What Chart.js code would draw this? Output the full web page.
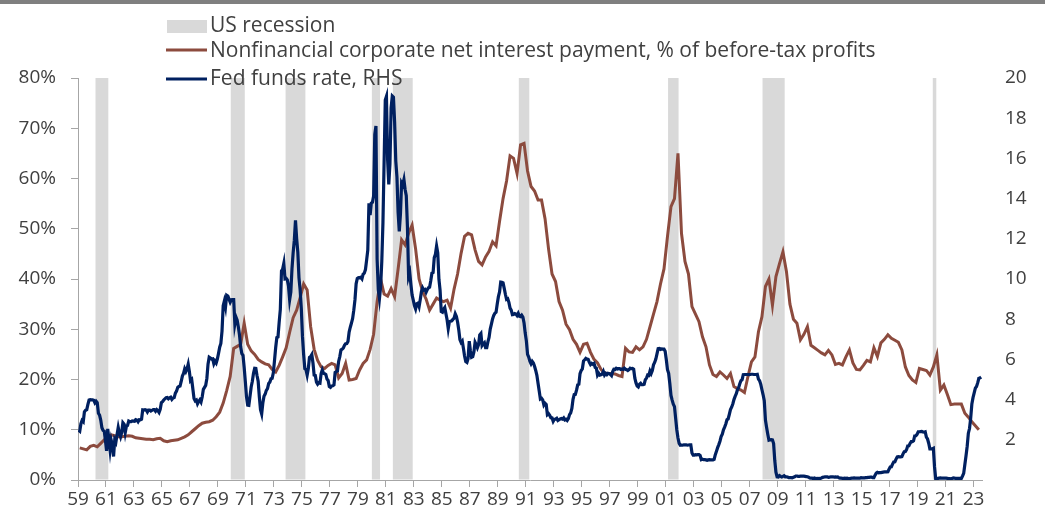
<!DOCTYPE html>
<html>
<head>
<meta charset="utf-8">
<script src="https://cdn.jsdelivr.net/npm/chart.js@4.4.1/dist/chart.umd.min.js"></script>
<style>
  html, body { margin: 0; padding: 0; background: #fff; }
  canvas { display: block; }
</style>
</head>
<body>
<canvas id="chart" width="1045" height="522"></canvas>
<script>
// US recessions (NBER, decimal years: start of first month, end of last month)
const recStart = [1960.25, 1969.917, 1973.833, 1980.0, 1981.5, 1990.5, 2001.167, 2007.917, 2020.083];
const recEnd   = [1961.167, 1970.917, 1975.25, 1980.583, 1982.917, 1991.25, 2001.917, 2009.5, 2020.333];

// Fed funds rate, monthly from Jan 1959 (RHS)
const ffStart = 1959;
const ffRate = [
  2.48, 2.43, 2.80, 2.96, 2.90, 3.39, 3.47, 3.50, 3.76, 3.98, 4.00, 3.99,
  3.99, 3.97, 3.84, 3.92, 3.85, 3.32, 3.23, 2.98, 2.60, 2.47, 2.44, 1.98,
  1.45, 2.54, 2.02, 1.49, 1.98, 1.73, 1.17, 2.00, 1.88, 2.26, 2.61, 2.33,
  2.15, 2.37, 2.85, 2.78, 2.36, 2.68, 2.71, 2.93, 2.90, 2.90, 2.94, 2.93,
  2.92, 3.00, 2.98, 2.90, 3.00, 2.99, 3.02, 3.49, 3.48, 3.50, 3.48, 3.38,
  3.48, 3.48, 3.43, 3.47, 3.50, 3.50, 3.42, 3.50, 3.45, 3.36, 3.52, 3.85,
  3.90, 3.98, 4.04, 4.09, 4.10, 4.04, 4.09, 4.12, 4.01, 4.08, 4.10, 4.32,
  4.42, 4.60, 4.65, 4.67, 4.90, 5.17, 5.30, 5.53, 5.40, 5.53, 5.76, 5.40,
  4.94, 5.00, 4.53, 4.05, 3.94, 3.98, 3.79, 3.90, 3.99, 3.88, 4.13, 4.51,
  4.61, 4.71, 5.05, 5.76, 6.11, 6.07, 6.02, 6.03, 5.78, 5.91, 5.82, 6.02,
  6.30, 6.61, 6.79, 7.41, 8.67, 8.90, 8.61, 9.19, 9.15, 9.00, 8.85, 8.97,
  8.98, 8.98, 7.76, 8.10, 7.95, 7.61, 7.21, 6.61, 6.29, 6.20, 5.60, 4.90,
  4.14, 3.72, 3.71, 4.16, 4.63, 4.91, 5.31, 5.56, 5.55, 5.20, 4.91, 4.14,
  3.50, 3.29, 3.83, 4.17, 4.27, 4.46, 4.55, 4.80, 4.87, 5.04, 5.06, 5.33,
  5.94, 6.58, 7.09, 7.12, 7.84, 8.49, 10.40, 10.50, 10.78, 10.01, 10.03, 9.95,
  9.65, 8.97, 9.35, 10.51, 11.31, 11.93, 12.92, 12.01, 11.34, 10.06, 9.45, 8.53,
  7.13, 6.24, 5.54, 5.49, 5.22, 5.55, 6.10, 6.14, 6.24, 5.82, 5.22, 5.20,
  4.87, 4.77, 4.84, 4.82, 5.29, 5.48, 5.31, 5.29, 5.25, 5.02, 4.95, 4.65,
  4.61, 4.68, 4.69, 4.73, 5.35, 5.39, 5.42, 5.90, 6.14, 6.47, 6.51, 6.56,
  6.70, 6.78, 6.79, 6.89, 7.36, 7.60, 7.81, 8.04, 8.45, 8.96, 9.76, 10.03,
  10.07, 10.06, 10.09, 10.01, 10.24, 10.29, 10.47, 10.94, 11.43, 13.77, 13.18, 13.78,
  13.82, 14.13, 17.19, 17.61, 10.98, 9.47, 9.03, 9.61, 10.87, 12.81, 15.85, 18.90,
  19.08, 15.93, 14.70, 15.72, 18.52, 19.10, 19.04, 17.82, 15.87, 15.08, 13.31, 12.37,
  13.22, 14.78, 14.68, 14.94, 14.45, 14.15, 12.59, 10.12, 10.31, 9.71, 9.20, 8.95,
  8.68, 8.51, 8.77, 8.80, 8.63, 8.98, 9.37, 9.56, 9.45, 9.48, 9.34, 9.47,
  9.56, 9.59, 9.91, 10.29, 10.32, 11.06, 11.23, 11.64, 11.30, 9.99, 9.43, 8.38,
  8.35, 8.50, 8.58, 8.27, 7.97, 7.53, 7.88, 7.90, 7.92, 7.99, 8.05, 8.27,
  8.14, 7.86, 7.48, 6.99, 6.85, 6.92, 6.56, 6.17, 5.89, 5.85, 6.04, 6.91,
  6.43, 6.10, 6.13, 6.37, 6.85, 6.73, 6.58, 6.73, 7.22, 7.29, 6.69, 6.77,
  6.83, 6.58, 6.58, 6.87, 7.09, 7.51, 7.75, 8.01, 8.19, 8.30, 8.35, 8.76,
  9.12, 9.36, 9.85, 9.84, 9.81, 9.53, 9.24, 8.99, 9.02, 8.84, 8.55, 8.45,
  8.23, 8.24, 8.28, 8.26, 8.18, 8.29, 8.15, 8.13, 8.20, 8.11, 7.81, 7.31,
  6.91, 6.25, 6.12, 5.91, 5.78, 5.90, 5.82, 5.66, 5.45, 5.21, 4.81, 4.43,
  4.03, 4.06, 3.98, 3.73, 3.82, 3.76, 3.25, 3.30, 3.22, 3.10, 3.09, 2.92,
  3.02, 3.03, 3.07, 2.96, 3.00, 3.04, 3.06, 3.03, 3.09, 2.99, 3.02, 2.96,
  3.05, 3.25, 3.34, 3.56, 4.01, 4.25, 4.26, 4.47, 4.73, 4.76, 5.29, 5.45,
  5.53, 5.92, 5.98, 6.05, 6.01, 6.00, 5.85, 5.74, 5.80, 5.76, 5.80, 5.60,
  5.56, 5.22, 5.31, 5.22, 5.24, 5.27, 5.40, 5.22, 5.30, 5.24, 5.31, 5.29,
  5.25, 5.19, 5.39, 5.51, 5.50, 5.56, 5.52, 5.54, 5.54, 5.50, 5.52, 5.50,
  5.56, 5.51, 5.49, 5.45, 5.49, 5.56, 5.54, 5.55, 5.51, 5.07, 4.83, 4.68,
  4.63, 4.76, 4.81, 4.74, 4.74, 4.76, 4.99, 5.07, 5.22, 5.20, 5.42, 5.30,
  5.45, 5.73, 5.85, 6.02, 6.27, 6.53, 6.54, 6.50, 6.52, 6.51, 6.51, 6.40,
  5.98, 5.49, 5.31, 4.80, 4.21, 3.97, 3.77, 3.65, 3.07, 2.49, 2.09, 1.82,
  1.73, 1.74, 1.73, 1.75, 1.75, 1.75, 1.73, 1.74, 1.75, 1.75, 1.34, 1.24,
  1.24, 1.26, 1.25, 1.26, 1.26, 1.22, 1.01, 1.03, 1.01, 1.01, 1.00, 0.98,
  1.00, 1.01, 1.00, 1.00, 1.00, 1.03, 1.26, 1.43, 1.61, 1.76, 1.93, 2.16,
  2.28, 2.50, 2.63, 2.79, 3.00, 3.04, 3.26, 3.50, 3.62, 3.78, 4.00, 4.16,
  4.29, 4.49, 4.59, 4.79, 4.94, 4.99, 5.24, 5.25, 5.25, 5.25, 5.25, 5.24,
  5.25, 5.26, 5.26, 5.25, 5.25, 5.25, 5.26, 5.02, 4.94, 4.76, 4.49, 4.24,
  3.94, 2.98, 2.61, 2.28, 1.98, 2.00, 2.01, 2.00, 1.81, 0.97, 0.39, 0.16,
  0.15, 0.22, 0.18, 0.15, 0.18, 0.21, 0.16, 0.16, 0.15, 0.12, 0.12, 0.12,
  0.11, 0.13, 0.16, 0.20, 0.20, 0.18, 0.18, 0.19, 0.19, 0.19, 0.19, 0.18,
  0.17, 0.16, 0.14, 0.10, 0.09, 0.09, 0.07, 0.10, 0.08, 0.07, 0.08, 0.07,
  0.08, 0.10, 0.13, 0.14, 0.16, 0.16, 0.16, 0.13, 0.14, 0.16, 0.16, 0.16,
  0.14, 0.15, 0.14, 0.15, 0.11, 0.09, 0.09, 0.08, 0.08, 0.09, 0.08, 0.09,
  0.07, 0.07, 0.08, 0.09, 0.09, 0.10, 0.09, 0.09, 0.09, 0.09, 0.09, 0.12,
  0.11, 0.11, 0.11, 0.12, 0.12, 0.13, 0.13, 0.14, 0.14, 0.12, 0.12, 0.24,
  0.34, 0.38, 0.36, 0.37, 0.37, 0.38, 0.39, 0.40, 0.40, 0.40, 0.41, 0.54,
  0.65, 0.66, 0.79, 0.90, 0.91, 1.04, 1.15, 1.16, 1.15, 1.15, 1.16, 1.30,
  1.41, 1.42, 1.51, 1.69, 1.70, 1.82, 1.91, 1.91, 1.95, 2.19, 2.20, 2.27,
  2.40, 2.40, 2.41, 2.42, 2.39, 2.38, 2.40, 2.13, 2.04, 1.83, 1.55, 1.55,
  1.55, 1.58, 0.65, 0.05, 0.05, 0.08, 0.09, 0.10, 0.09, 0.09, 0.09, 0.09,
  0.09, 0.08, 0.07, 0.07, 0.06, 0.08, 0.10, 0.09, 0.08, 0.08, 0.08, 0.08,
  0.08, 0.08, 0.20, 0.33, 0.77, 1.21, 1.68, 2.33, 2.56, 3.08, 3.78, 4.10,
  4.33, 4.57, 4.65, 4.83, 5.06, 5.08, 5.12
];

// Nonfinancial corporate net interest payment, % of before-tax profits, quarterly from 1959Q1
const nfStart = 1959;
const nfShare = [
  6.4, 6.2, 6.0, 6.7,   6.9, 6.6, 7.3, 8.0,
  8.6, 9.0, 8.8, 8.6,   8.6, 8.7, 8.8, 8.7,
  8.4, 8.3, 8.2, 8.1,   8.1, 8.0, 8.2, 8.3,
  7.8, 7.6, 7.8, 7.9,   8.0, 8.3, 8.6, 9.0,
  9.6, 10.2, 10.8, 11.3,   11.5, 11.6, 11.9, 12.6,
  13.5, 15.3, 17.8, 20.6,   26.2, 26.6, 27.0, 31.2,
  27.0, 25.7, 25.0, 24.0,   23.5, 23.1, 22.9, 22.0,
  21.5, 22.8, 24.5, 26.3,   29.4, 32.3, 33.8, 36.3,
  39.0, 37.8, 30.5, 26.0,   23.8, 22.5, 22.2, 22.8,
  23.2, 22.9, 20.3, 21.2,   23.2, 19.9, 20.0, 20.2,
  21.9, 23.2, 23.9, 26.0,   29.0, 35.5, 40.0, 37.0,
  36.6, 38.1, 36.5, 42.0,   47.8, 46.8, 49.1, 50.7,
  46.0, 40.0, 37.5, 36.0,   33.8, 35.0, 36.2, 35.8,
  35.5, 35.8, 34.2, 38.0,   41.0, 45.1, 48.5, 49.1,
  48.8, 45.8, 43.5, 42.8,   44.4, 45.5, 47.4, 46.6,
  51.5, 56.0, 59.5, 64.5,   64.0, 61.0, 66.7, 67.0,
  61.5, 58.4, 57.5, 55.7,   55.7, 52.0, 46.0, 41.0,
  39.5, 35.5, 33.8, 31.0,   29.9, 28.0, 27.0, 25.4,
  27.0, 27.2, 25.4, 24.0,   23.3, 22.0, 21.3, 21.2,
  21.2, 21.1, 20.8, 20.6,   26.2, 25.5, 25.4, 26.5,
  25.9, 26.5, 28.0, 30.5,   33.0, 35.5, 39.0, 42.0,
  48.5, 54.4, 56.0, 65.0,   49.1, 43.5, 41.0, 34.5,
  33.0, 31.5, 28.5, 26.5,   22.9, 21.0, 20.6, 21.5,
  20.9, 20.2, 21.2, 18.6,   18.2, 17.9, 17.4, 20.6,
  23.5, 24.5, 29.5, 32.5,   38.5, 40.0, 34.8, 40.5,
  43.0, 45.4, 41.5, 35.0,   32.0, 31.2, 27.9, 29.0,
  30.5, 26.8, 26.3, 25.8,   25.3, 24.9, 25.8, 24.9,
  23.0, 23.2, 22.9, 24.5,   25.9, 23.3, 22.0, 21.9,
  22.8, 23.8, 23.5, 26.3,   24.6, 27.3, 28.0, 28.9,
  28.2, 27.8, 27.4, 25.9,   22.5, 20.8, 19.9, 19.4,
  22.2, 22.0, 21.8, 20.9,   22.5, 24.9, 17.9, 18.9,
  17.0, 15.0, 15.1, 15.1,   15.1, 13.3, 12.5, 11.6,
  10.8, 10.0
];

// x-axis tick years (labelled with two digits)
const tickYears = [];
for (let y = 1959; y <= 2023; y += 2) tickYears.push(y);

const NAVY = '#002060';
const BROWN = '#8c4b3e';
const REC = '#d9d9d9';
const AXIS = '#a6a6a6';
const TEXT = '#404040';
const FONT = '"Open Sans", "Noto Sans", sans-serif';

const ffPoints = ffRate.map((v, i) => ({ x: ffStart + (i + 0.5) / 12, y: v }));
const nfPoints = nfShare.map((v, i) => ({ x: nfStart + (i + 0.5) / 4, y: v }));

const overlay = {
  id: 'overlay',
  beforeDatasetsDraw(chart) {
    const { ctx, chartArea: a, scales: { x } } = chart;
    ctx.save();
    ctx.fillStyle = REC;
    recStart.forEach((s, i) => {
      const x0 = x.getPixelForValue(s);
      const x1 = x.getPixelForValue(recEnd[i]);
      ctx.fillRect(x0, a.top, x1 - x0, a.bottom - a.top - 0.5);
    });
    ctx.restore();
  },
  afterDraw(chart) {
    const ctx = chart.ctx;
    ctx.save();
    // top rule
    ctx.fillStyle = '#7f7f7f';
    ctx.fillRect(0, 0, chart.width, 4);
    // legend
    ctx.font = '21px ' + FONT;
    ctx.textBaseline = 'alphabetic';
    ctx.textAlign = 'left';
    ctx.fillStyle = REC;
    ctx.fillRect(167, 20, 40, 13);
    ctx.lineCap = 'butt';
    ctx.strokeStyle = BROWN;
    ctx.lineWidth = 3;
    ctx.beginPath(); ctx.moveTo(166, 50); ctx.lineTo(207, 50); ctx.stroke();
    ctx.strokeStyle = NAVY;
    ctx.lineWidth = 3;
    ctx.beginPath(); ctx.moveTo(166, 79); ctx.lineTo(207, 79); ctx.stroke();
    ctx.fillStyle = TEXT;
    ctx.fillText('US recession', 210, 32);
    ctx.fillText('Nonfinancial corporate net interest payment, % of before-tax profits', 210, 57);
    ctx.fillText('Fed funds rate, RHS', 210, 85);
    ctx.restore();
  }
};

new Chart(document.getElementById('chart'), {
  type: 'line',
  data: {
    datasets: [
      {
        label: 'Fed funds rate, RHS',
        data: ffPoints,
        yAxisID: 'y2',
        borderColor: NAVY,
        borderWidth: 3.2,
        pointRadius: 0,
        tension: 0
      },
      {
        label: 'Nonfinancial corporate net interest payment, % of before-tax profits',
        data: nfPoints,
        yAxisID: 'y',
        borderColor: BROWN,
        borderWidth: 3,
        pointRadius: 0,
        tension: 0
      }
    ]
  },
  options: {
    responsive: false,
    animation: false,
    devicePixelRatio: 1,
    layout: { padding: { top: 78, left: 0, right: 0, bottom: 0 } },
    plugins: { legend: { display: false }, tooltip: { enabled: false } },
    scales: {
      x: {
        type: 'linear',
        min: 1959,
        max: 2023.6,
        afterBuildTicks: s => { s.ticks = tickYears.map(v => ({ value: v })); },
        afterFit: s => { s.height = 42; },
        grid: { drawOnChartArea: false, drawTicks: true, tickLength: 7, color: AXIS },
        border: { display: true, color: AXIS, width: 1 },
        ticks: {
          autoSkip: false,
          maxRotation: 0,
          padding: 1,
          color: TEXT,
          font: { family: FONT, size: 19 },
          callback: v => String(v).slice(2)
        }
      },
      y: {
        position: 'left',
        min: 0,
        max: 80,
        afterFit: s => { s.width = 78; },
        grid: { drawOnChartArea: false, drawTicks: true, tickLength: 7, color: AXIS },
        border: { display: true, color: AXIS, width: 1 },
        ticks: {
          stepSize: 10,
          padding: 15,
          color: TEXT,
          font: { family: FONT, size: 19 },
          callback: v => v + '%'
        }
      },
      y2: {
        position: 'right',
        min: 0,
        max: 20,
        afterFit: s => { s.width = 63; },
        grid: { display: false, drawTicks: false },
        border: { display: false },
        ticks: {
          stepSize: 2,
          padding: 23,
          color: TEXT,
          font: { family: FONT, size: 19 },
          callback: v => (v === 0 ? '' : v)
        }
      }
    }
  },
  plugins: [overlay]
});
</script>
</body>
</html>
